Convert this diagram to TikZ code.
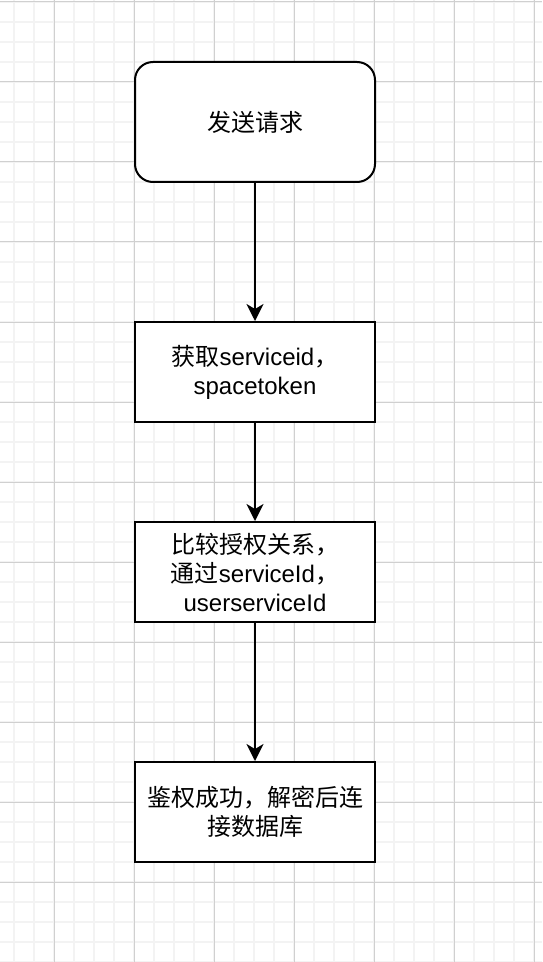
\documentclass[tikz,border=0pt]{standalone}
\usepackage{fontspec}
\setmainfont{Liberation Sans}
\newfontfamily\cjk{Noto Sans CJK SC}
\usetikzlibrary{arrows.meta}

\definecolor{minorgray}{HTML}{F3F3F3}
\definecolor{majorgray}{HTML}{D0D0D0}

\begin{document}
\begin{tikzpicture}[x=0.5pt,y=-0.5pt,
	stepbox/.style={draw, line width=1pt, minimum width=120pt, minimum height=50pt,
		align=center, font=\fontsize{12}{14.5}\selectfont, inner sep=0pt},
	flowarrow/.style={line width=1pt, -{Stealth[length=8.5pt,width=8.5pt,inset=2.5pt]}}]

	\useasboundingbox (0,0) rectangle (542,962);
	\fill[white] (0,0) rectangle (542,962);

	% grid
	\foreach \i in {0,1,...,26}
		\draw[minorgray, line width=0.8pt] (14+20*\i,0) -- (14+20*\i,962);
	\foreach \i in {0,1,...,48}
		\draw[minorgray, line width=0.8pt] (0,2+20*\i) -- (542,2+20*\i);
	\foreach \i in {0,1,...,6}
		\draw[majorgray, line width=0.5pt] (54+80*\i,0) -- (54+80*\i,962);
	\foreach \i in {0,1,...,12}
		\draw[majorgray, line width=0.5pt] (0,2+80*\i) -- (542,2+80*\i);

	% steps
	\node[stepbox, fill=white, rounded corners=9pt, minimum height=60pt] (send) at (255,122) {\cjk 发送请求};
	\node[stepbox, fill=white] (fetch) at (255,372) {{\cjk 获取}serviceid{\cjk ，}\\spacetoken};
	\node[stepbox, fill=white] (compare) at (255,572) {{\cjk 比较授权关系，}\\{\cjk 通过}serviceId{\cjk ，}\\userserviceId};
	\node[stepbox, fill=white] (connect) at (255,812) {\cjk 鉴权成功，解密后连\\\cjk 接数据库};

	\draw[flowarrow] (send) -- (fetch);
	\draw[flowarrow] (fetch) -- (compare);
	\draw[flowarrow] (compare) -- (connect);

\end{tikzpicture}
\end{document}
